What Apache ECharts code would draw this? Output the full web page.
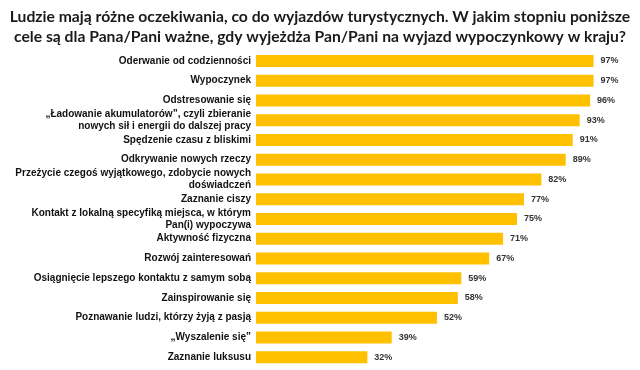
<!DOCTYPE html>
<html><head><meta charset="utf-8">
<script src="https://cdn.jsdelivr.net/npm/echarts@6/dist/echarts.min.js"></script>
<style>html,body{margin:0;padding:0;background:#fff}#c{width:640px;height:370px}</style>
</head><body><div id="c"></div>
<script>
const titleText = "Ludzie mają różne oczekiwania, co do wyjazdów turystycznych. W jakim stopniu poniższe\ncele są dla Pana/Pani ważne, gdy wyjeżdża Pan/Pani na wyjazd wypoczynkowy w kraju?";
const categories = [
  "Oderwanie od codzienności",
  "Wypoczynek",
  "Odstresowanie się",
  "„Ładowanie akumulatorów”, czyli zbieranie\nnowych sił i energii do dalszej pracy",
  "Spędzenie czasu z bliskimi",
  "Odkrywanie nowych rzeczy",
  "Przeżycie czegoś wyjątkowego, zdobycie nowych\ndoświadczeń",
  "Zaznanie ciszy",
  "Kontakt z lokalną specyfiką miejsca, w którym\nPan(i) wypoczywa",
  "Aktywność fizyczna",
  "Rozwój zainteresowań",
  "Osiągnięcie lepszego kontaktu z samym sobą",
  "Zainspirowanie się",
  "Poznawanie ludzi, którzy żyją z pasją",
  "„Wyszalenie się”",
  "Zaznanie luksusu"
];
const values = [97, 97, 96, 93, 91, 89, 82, 77, 75, 71, 67, 59, 58, 52, 39, 32];

const chart = echarts.init(document.getElementById('c'), null, {renderer: 'canvas'});
chart.setOption({
  animation: false,
  title: {
    text: titleText, left: 'center', top: 2,
    textStyle: {fontFamily: 'Lato', fontWeight: 'bold', fontSize: 15.7, color: '#1a1a1a', lineHeight: 20}
  },
  grid: {left: 256, right: 36, top: 51, bottom: 3, containLabel: false},
  xAxis: {type: 'value', min: 0, max: 100, show: false},
  yAxis: {
    type: 'category', inverse: true, data: categories,
    axisLine: {show: false}, axisTick: {show: false},
    axisLabel: {fontFamily: 'Liberation Sans', fontWeight: 'bold', fontSize: 10, color: '#111', lineHeight: 12, margin: 5, align: 'right'}
  },
  series: [{
    type: 'bar', data: values, barWidth: 12,
    itemStyle: {color: '#FFC000'},
    label: {show: true, position: 'right', distance: 7, formatter: '{c}%', fontFamily: 'Liberation Sans', fontWeight: 'bold', fontSize: 9, color: '#333'}
  }]
});
</script></body></html>
